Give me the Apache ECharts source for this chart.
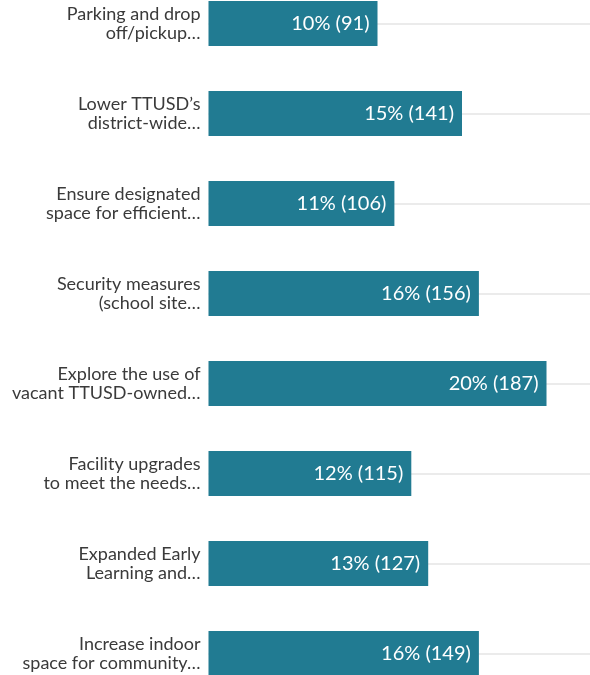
<!DOCTYPE html>
<html><head><meta charset="utf-8">
<script src="https://cdn.jsdelivr.net/npm/echarts@6/dist/echarts.min.js"></script>
<style>html,body{margin:0;padding:0;background:#fff}#c{width:590px;height:675px}</style>
</head><body><div id="c"></div>
<script>
var categories = [
  "Parking and drop\noff/pickup…",
  "Lower TTUSD’s\ndistrict-wide…",
  "Ensure designated\nspace for efficient…",
  "Security measures\n(school site…",
  "Explore the use of\nvacant TTUSD-owned…",
  "Facility upgrades\nto meet the needs…",
  "Expanded Early\nLearning and…",
  "Increase indoor\nspace for community…"
];
var percents = [10, 15, 11, 16, 20, 12, 13, 16];
var counts = [91, 141, 106, 156, 187, 115, 127, 149];

var chart = echarts.init(document.getElementById('c'));
chart.setOption({
  animation: false,
  grid: { left: 208.5, top: -21.5, width: 422.5, height: 720, containLabel: false, outerBoundsMode: 'none' },
  xAxis: { type: 'value', min: 0, max: 25, show: false },
  yAxis: {
    type: 'category', inverse: true, data: categories,
    axisLine: { show: false }, axisTick: { show: false },
    splitLine: { show: true, alignWithLabel: true, lineStyle: { color: '#e4e4e4', width: 1.5 } },
    axisLabel: { fontFamily: 'Lato', fontSize: 18, lineHeight: 19, color: '#3a3a3a', margin: 8, align: 'right' }
  },
  series: [{
    type: 'bar', data: percents, barWidth: '50%',
    itemStyle: { color: '#217b92' },
    label: {
      show: true, position: 'insideRight', distance: 8,
      color: '#fff', fontFamily: 'Lato', fontSize: 20,
      formatter: function (p) { return percents[p.dataIndex] + '% (' + counts[p.dataIndex] + ')'; }
    }
  }]
});
</script></body></html>
